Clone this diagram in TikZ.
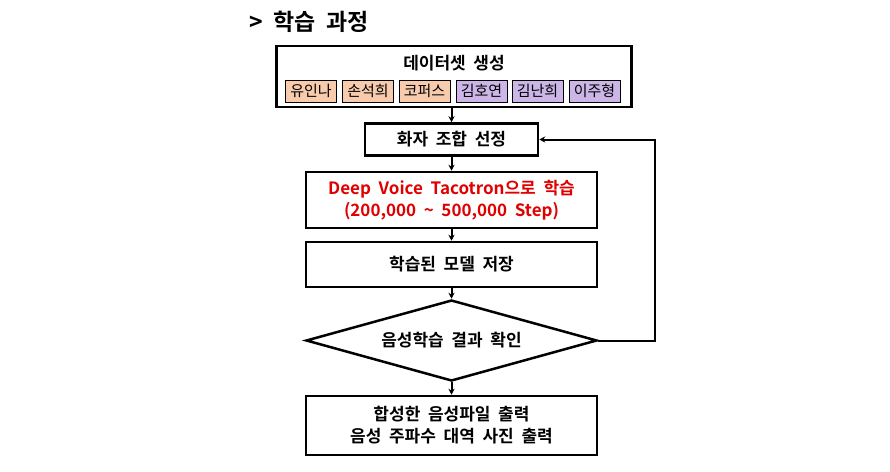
\documentclass[tikz,border=0pt]{standalone}
\usepackage{fontspec}
\setmainfont{Noto Sans CJK KR}[BoldFont={Noto Sans CJK KR Bold}]
\usetikzlibrary{shapes.geometric,arrows.meta}
\definecolor{peach}{HTML}{F8CBAD}
\definecolor{lilac}{HTML}{CCB6E8}
\definecolor{redtxt}{HTML}{E00000}
\newcommand{\wsp}{\spaceskip=0.45em plus 0.1em\relax}
\begin{document}
\begin{tikzpicture}[x=1pt,y=-1pt,
  mainbox/.style={draw=black,line width=2.5pt,fill=white,font=\bfseries\fontsize{17}{22}\selectfont\wsp,align=center,inner sep=0pt},
  tagbox/.style={draw=black,line width=0.8pt,minimum width=51pt,minimum height=22pt,inner sep=0pt,font=\fontsize{15}{17}\selectfont},
  conn/.style={line width=2pt,-{Stealth[length=6pt,width=6pt]}}]
\useasboundingbox (0,0) rectangle (890,471);
\node[anchor=west,font=\bfseries\fontsize{23}{27}\selectfont\wsp] (title) at (246,22) {> 학습 과정};
\node[mainbox,minimum width=355pt,minimum height=61pt] (data) at (454,76.5) {};
\node[font=\bfseries\fontsize{17}{22}\selectfont\wsp] (datat) at (454,63) {데이터셋 생성};
\node[tagbox,fill=peach] (t1) at (311,91) {유인나};
\node[tagbox,fill=peach] (t2) at (368,91) {손석희};
\node[tagbox,fill=peach] (t3) at (424.5,91) {코퍼스};
\node[tagbox,fill=lilac] (t4) at (481.5,91) {김호연};
\node[tagbox,fill=lilac] (t5) at (537.5,91) {김난희};
\node[tagbox,fill=lilac] (t6) at (594.5,91) {이주형};
\node[mainbox,minimum width=173pt,minimum height=32pt] (sel) at (451.5,139.5) {화자 조합 선정};
\node[mainbox,minimum width=291pt,minimum height=56pt,text=redtxt] (train) at (451.5,200) {Deep Voice Tacotron으로 학습\\(200,000 \textasciitilde{} 500,000 Step)};
\node[mainbox,minimum width=291pt,minimum height=45pt] (save) at (451.5,264.5) {학습된 모델 저장};
\node[mainbox,diamond,aspect=3.6,minimum width=291pt,minimum height=81pt] (chk) at (451.5,340.5) {음성학습 결과 확인};
\node[mainbox,minimum width=291pt,minimum height=59pt] (out) at (451.5,425.5) {합성한 음성파일 출력\\음성 주파수 대역 사진 출력};
\coordinate (c1) at (655,340.5);
\coordinate (c2) at (655,139.5);
\draw[conn] (data.south -| sel.north) -- (sel.north);
\draw[conn] (sel) -- (train);
\draw[conn] (train) -- (save);
\draw[conn] (save) -- (chk);
\draw[conn] (chk) -- (out);
\draw[conn] (chk.east) -- (c1) -- (c2) -- (sel.east);
\end{tikzpicture}
\end{document}
